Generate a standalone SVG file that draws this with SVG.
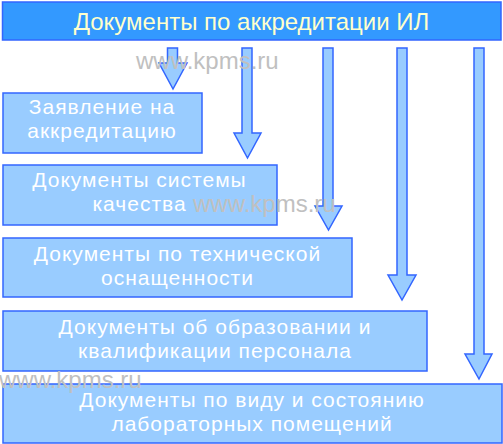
<svg xmlns="http://www.w3.org/2000/svg" width="503" height="444" viewBox="0 0 503 444">
<style>
.title{fill:#3399FF;stroke:#3366FF;stroke-width:1.5}
.box{fill:#99CCFF;stroke:#3366FF;stroke-width:1.5}
.arrow{fill:#99CCFF;stroke:#3366FF;stroke-width:1.5;stroke-linejoin:miter}
.tt{font-family:"Liberation Sans",Arial,sans-serif;font-size:24px;fill:#FFFFCC;text-anchor:middle}
.bt{font-family:"Liberation Sans",Arial,sans-serif;font-size:21px;letter-spacing:1px;fill:#FFFFFF;text-anchor:middle}
.wm{font-family:"Liberation Sans",Arial,sans-serif;font-size:24px;fill:#C0C0C0}
</style>
<rect width="503" height="444" fill="#FFFFFF"/>
<g id="title-node">
<rect class="title" x="2.5" y="2" width="498.5" height="38"/>
<text class="tt" x="251.5" y="30">Документы по аккредитации ИЛ</text>
</g>
<g id="connectors">
<path class="arrow" d="M167.5,48 H177.5 V63 H187 L173,89 L159,63 H167.5 Z"/>
<path class="arrow" d="M242,48 H252 V133 H261 L247.5,158 L234,133 H242 Z"/>
<path class="arrow" d="M323,48 H333 V206 H342 L328.5,230 L315,206 H323 Z"/>
<path class="arrow" d="M397,48 H407 V275 H416 L402,300 L388,275 H397 Z"/>
<path class="arrow" d="M474,48 H484 V354 H492 L479,379 L465,354 H474 Z"/>
</g>
<g id="node1">
<rect class="box" x="3" y="93" width="199" height="60"/>
<text class="bt" x="102" y="114">Заявление на</text>
<text class="bt" x="102" y="138">аккредитацию</text>
</g>
<g id="node2">
<rect class="box" x="3" y="165" width="274" height="60"/>
<text class="bt" x="139.5" y="187">Документы системы</text>
<text class="bt" x="139.5" y="211">качества</text>
</g>
<g id="node3">
<rect class="box" x="3" y="238" width="349" height="59"/>
<text class="bt" x="177.5" y="261">Документы по технической</text>
<text class="bt" x="177.5" y="285">оснащенности</text>
</g>
<g id="node4">
<rect class="box" x="3" y="311" width="424" height="60"/>
<text class="bt" x="215" y="334">Документы об образовании и</text>
<text class="bt" x="215" y="358">квалификации персонала</text>
</g>
<g id="node5">
<rect class="box" x="3" y="384" width="499" height="59"/>
<text class="bt" x="252" y="407">Документы по виду и состоянию</text>
<text class="bt" x="252" y="431">лабораторных помещений</text>
</g>
<g id="watermarks">
<text class="wm" x="136" y="69">www.kpms.ru</text>
<text class="wm" x="193" y="212">www.kpms.ru</text>
<text class="wm" x="-1" y="388">www.kpms.ru</text>
</g>
</svg>
